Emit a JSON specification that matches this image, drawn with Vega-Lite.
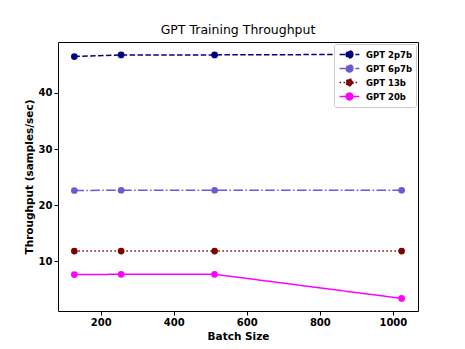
{
  "$schema": "https://vega.github.io/schema/vega-lite/v6.json",
  "width": 360,
  "height": 269,
  "autosize": {"type": "none"},
  "padding": {"left": 58, "top": 42, "right": 47, "bottom": 38},
  "background": "white",
  "config": {
    "font": "DejaVu Sans",
    "view": {"stroke": "black", "strokeWidth": 1},
    "axis": {"grid": false, "domain": false, "tickColor": "black", "tickSize": 4, "labelColor": "black", "labelFontWeight": "bold", "labelFontSize": 10, "titleFontWeight": "bold", "titleFontSize": 10.5, "titleColor": "black", "labelPadding": 2}
  },
  "title": {"text": "GPT Training Throughput", "fontSize": 12.5, "fontWeight": "normal", "color": "black", "offset": 6},
  "data": {"values": [
    {"batch": 128, "tput": 46.5, "model": "GPT 2p7b"},
    {"batch": 256, "tput": 46.8, "model": "GPT 2p7b"},
    {"batch": 512, "tput": 46.8, "model": "GPT 2p7b"},
    {"batch": 1024, "tput": 46.9, "model": "GPT 2p7b"},
    {"batch": 128, "tput": 22.6, "model": "GPT 6p7b"},
    {"batch": 256, "tput": 22.65, "model": "GPT 6p7b"},
    {"batch": 512, "tput": 22.65, "model": "GPT 6p7b"},
    {"batch": 1024, "tput": 22.65, "model": "GPT 6p7b"},
    {"batch": 128, "tput": 11.8, "model": "GPT 13b"},
    {"batch": 256, "tput": 11.8, "model": "GPT 13b"},
    {"batch": 512, "tput": 11.8, "model": "GPT 13b"},
    {"batch": 1024, "tput": 11.8, "model": "GPT 13b"},
    {"batch": 128, "tput": 7.6, "model": "GPT 20b"},
    {"batch": 256, "tput": 7.65, "model": "GPT 20b"},
    {"batch": 512, "tput": 7.65, "model": "GPT 20b"},
    {"batch": 1024, "tput": 3.35, "model": "GPT 20b"}
  ]},
  "encoding": {
    "x": {"field": "batch", "type": "quantitative", "title": "Batch Size", "scale": {"domain": [83.2, 1068.8], "nice": false, "zero": false}, "axis": {"values": [200, 400, 600, 800, 1000], "format": "d"}},
    "y": {"field": "tput", "type": "quantitative", "title": "Throughput (samples/sec)", "scale": {"domain": [1.1, 49.1], "nice": false, "zero": false}, "axis": {"values": [10, 20, 30, 40], "format": "d"}},
    "color": {"field": "model", "type": "nominal", "title": null, "sort": ["GPT 2p7b", "GPT 6p7b", "GPT 13b", "GPT 20b"], "scale": {"domain": ["GPT 2p7b", "GPT 6p7b", "GPT 13b", "GPT 20b"], "range": ["#000080", "#6A5ACD", "#800000", "#FF00FF"]},
      "legend": {"orient": "top-right", "offset": 2, "symbolType": "M-1.8,0L1.8,0M0.62,0A0.62,0.62,0,1,1,-0.62,0A0.62,0.62,0,1,1,0.62,0Z", "symbolStrokeWidth": 1.5, "symbolSize": 121, "symbolOffset": 5, "labelOffset": 10, "labelFontWeight": "bold", "labelFontSize": 8.5, "labelColor": "black", "strokeColor": "#cccccc", "fillColor": "white", "padding": 4, "cornerRadius": 2, "rowPadding": 1,
        "encode": {"symbols": {"update": {"fill": {"scale": "color", "field": "value"}, "fillOpacity": {"value": 1}}}}}}
  },
  "layer": [
    {
      "mark": {"type": "line", "strokeWidth": 1.5},
      "encoding": {
        "strokeDash": {"field": "model", "type": "nominal", "title": null, "sort": ["GPT 2p7b", "GPT 6p7b", "GPT 13b", "GPT 20b"], "scale": {"domain": ["GPT 2p7b", "GPT 6p7b", "GPT 13b", "GPT 20b"], "range": [[5.5, 2.4], [9.6, 2.4, 1.5, 2.4], [1.5, 2.5], [1, 0]]}}
      }
    },
    {
      "mark": {"type": "point", "filled": true, "opacity": 1, "size": 45, "shape": "circle"}
    }
  ]
}
